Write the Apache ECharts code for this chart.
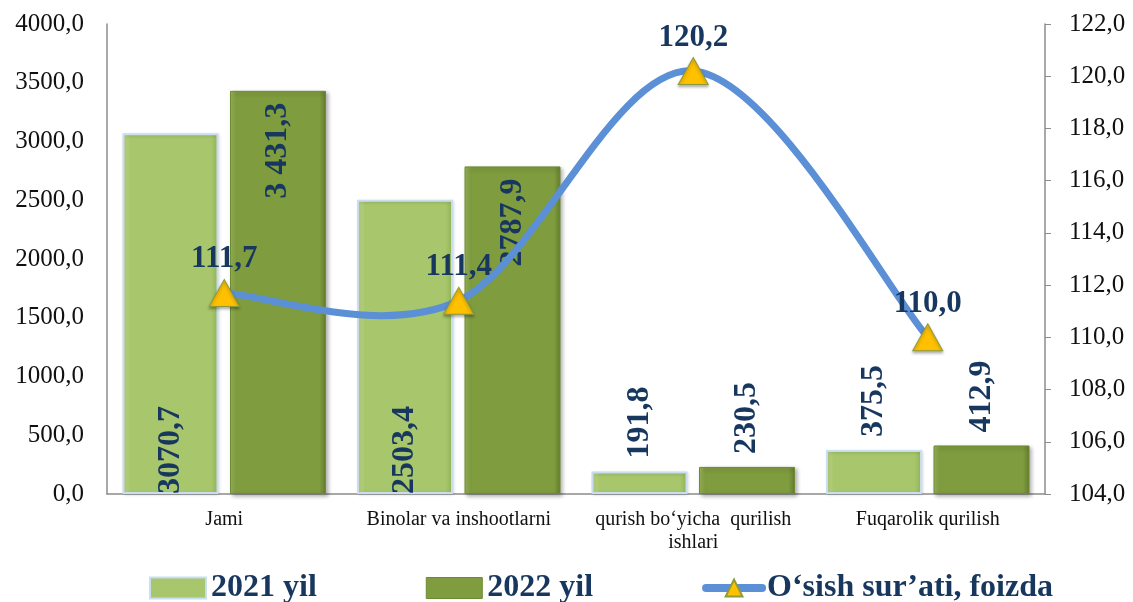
<!DOCTYPE html>
<html>
<head>
<meta charset="utf-8">
<script src="https://cdn.jsdelivr.net/npm/echarts@6/dist/echarts.min.js"></script>
<style>
html,body{margin:0;padding:0;background:#fff;}
#chart{width:1133px;height:602px;}
</style>
</head>
<body>
<div id="chart"></div>
<script>
const categories = ['Jami', 'Binolar va inshootlarni', 'qurish bo\u2018yicha  qurilish\nishlari', 'Fuqarolik qurilish'];
const values2021 = [3070.7, 2503.4, 191.8, 375.5];
const values2022 = [3431.3, 2787.9, 230.5, 412.9];
const growth = [111.7, 111.4, 120.2, 110.0];
const labels2021 = ['3070,7', '2503,4', '191,8', '375,5'];
const labels2022 = ['3 431,3', '2787,9', '230,5', '412,9'];
const growthLabels = ['111,7', '111,4', '120,2', '110,0'];
const seriesNames = ['2021 yil', '2022 yil', 'O\u2018sish sur\u2019ati, foizda'];

const SERIF = '"Liberation Serif", "Times New Roman", "DejaVu Serif", serif';
const NAVY = '#17375E';
const LINE_BLUE = '#5B8FD6';

function fmt(v) { return v.toFixed(1).replace('.', ','); }

function barLabel(v, text, bigPos) {
  const big = v > 1000;
  return {
    show: true,
    rotate: 90,
    position: big ? bigPos : 'top',
    align: big ? (bigPos === 'insideTop' ? 'right' : 'left') : 'left',
    verticalAlign: 'middle',
    distance: big ? (bigPos === 'insideTop' ? 12 : 0) : 13,
    formatter: text,
    color: NAVY,
    fontFamily: SERIF,
    fontWeight: 'bold',
    fontSize: 32
  };
}

const style2021 = {
  color: new echarts.graphic.LinearGradient(0, 0, 1, 0, [
    {offset: 0, color: '#C3DB8C'}, {offset: 0.08, color: '#A8C66B'},
    {offset: 0.92, color: '#A8C66B'}, {offset: 1, color: '#93B355'}
  ]),
  borderColor: '#C9DDF0', borderWidth: 2,
  shadowColor: 'rgba(0,0,0,0.15)', shadowBlur: 3, shadowOffsetX: 1, shadowOffsetY: 1
};
const style2022 = {
  color: new echarts.graphic.LinearGradient(0, 0, 1, 0, [
    {offset: 0, color: '#9BB75A'}, {offset: 0.07, color: '#7F9C3F'},
    {offset: 0.93, color: '#7F9C3F'}, {offset: 1, color: '#647F2C'}
  ]),
  borderColor: '#6E8A33', borderWidth: 1,
  shadowColor: 'rgba(0,0,0,0.3)', shadowBlur: 4, shadowOffsetX: 2, shadowOffsetY: 2
};

// Smooth curve through the data points (Catmull-Rom style, like the office chart)
function renderCurve(params, api) {
  if (params.dataIndex !== 0) return null;
  const p = growth.map((v, j) => api.coord([j, v]));
  const n = p.length;
  let d = 'M' + p[0][0] + ' ' + p[0][1];
  for (let i = 0; i < n - 1; i++) {
    const p0 = p[Math.max(i - 1, 0)], p1 = p[i], p2 = p[i + 1], p3 = p[Math.min(i + 2, n - 1)];
    const c1 = [p1[0] + (p2[0] - p0[0]) / 6, p1[1] + (p2[1] - p0[1]) / 6];
    const c2 = [p2[0] - (p3[0] - p1[0]) / 6, p2[1] - (p3[1] - p1[1]) / 6];
    d += ' C' + c1[0] + ' ' + c1[1] + ' ' + c2[0] + ' ' + c2[1] + ' ' + p2[0] + ' ' + p2[1];
  }
  return {
    type: 'path',
    shape: {pathData: d},
    style: {fill: 'none', stroke: LINE_BLUE, lineWidth: 7, lineCap: 'round', lineJoin: 'round'}
  };
}

const chart = echarts.init(document.getElementById('chart'));
chart.setOption({
  animation: false,
  grid: {left: 107, right: 88, top: 24, bottom: 108, containLabel: false},
  legend: {
    left: 144, bottom: -7,
    itemGap: 109, itemWidth: 56, itemHeight: 21,
    textStyle: {fontFamily: SERIF, fontWeight: 'bold', fontSize: 32, color: NAVY},
    data: [
      {name: seriesNames[0], icon: 'rect', itemStyle: {color: '#A8C66B', borderColor: '#C9DDF0', borderWidth: 2}},
      {name: seriesNames[1], icon: 'rect', itemStyle: {color: '#7F9C3F', borderColor: '#6E8A33', borderWidth: 1}},
      {name: seriesNames[2], lineStyle: {color: LINE_BLUE, width: 8, opacity: 1, cap: 'round'}}
    ]
  },
  xAxis: {
    type: 'category',
    data: categories,
    axisLine: {lineStyle: {color: '#8C8C8C', width: 1.5}},
    axisTick: {show: false},
    axisLabel: {fontFamily: SERIF, fontSize: 20, color: '#111', margin: 14, lineHeight: 23, interval: 0}
  },
  yAxis: [
    {
      type: 'value', min: 0, max: 4000, interval: 500,
      axisLine: {show: true, lineStyle: {color: '#8C8C8C', width: 1.5}},
      axisTick: {show: false},
      splitLine: {show: false},
      axisLabel: {fontFamily: SERIF, fontSize: 25, color: '#111', margin: 23, formatter: fmt}
    },
    {
      type: 'value', min: 104, max: 122, interval: 2,
      axisLine: {show: true, lineStyle: {color: '#8C8C8C', width: 1.5}},
      axisTick: {show: true, inside: false, length: 6, lineStyle: {color: '#8C8C8C'}},
      splitLine: {show: false},
      axisLabel: {fontFamily: SERIF, fontSize: 25, color: '#111', margin: 24, formatter: fmt}
    }
  ],
  series: [
    {
      name: seriesNames[0], type: 'bar', yAxisIndex: 0,
      barWidth: 96, barGap: '12%',
      itemStyle: style2021,
      data: values2021.map((v, i) => ({value: v, label: barLabel(v, labels2021[i], 'insideBottom')})),
      z: 2
    },
    {
      name: seriesNames[1], type: 'bar', yAxisIndex: 0,
      barWidth: 96, barGap: '12%',
      itemStyle: style2022,
      data: values2022.map((v, i) => ({value: v, label: barLabel(v, labels2022[i], 'insideTop')})),
      z: 2
    },
    {
      name: 'curve', type: 'custom', yAxisIndex: 1,
      renderItem: renderCurve,
      data: growth.map((v, i) => [i, v]),
      encode: {x: 0, y: 1},
      silent: true,
      z: 4
    },
    {
      name: seriesNames[2], type: 'line', yAxisIndex: 1,
      data: growth,
      lineStyle: {color: LINE_BLUE, width: 7, opacity: 0},
      symbol: 'triangle', symbolSize: [30, 27],
      itemStyle: {color: '#FFC000', borderColor: '#8E9B3A', borderWidth: 1,
        shadowColor: 'rgba(0,0,0,0.3)', shadowBlur: 3, shadowOffsetY: 2},
      label: {
        show: true, position: 'top', distance: 4,
        formatter: p => growthLabels[p.dataIndex],
        color: NAVY, fontFamily: SERIF, fontWeight: 'bold', fontSize: 31
      },
      z: 5
    }
  ]
});
</script>
</body>
</html>
